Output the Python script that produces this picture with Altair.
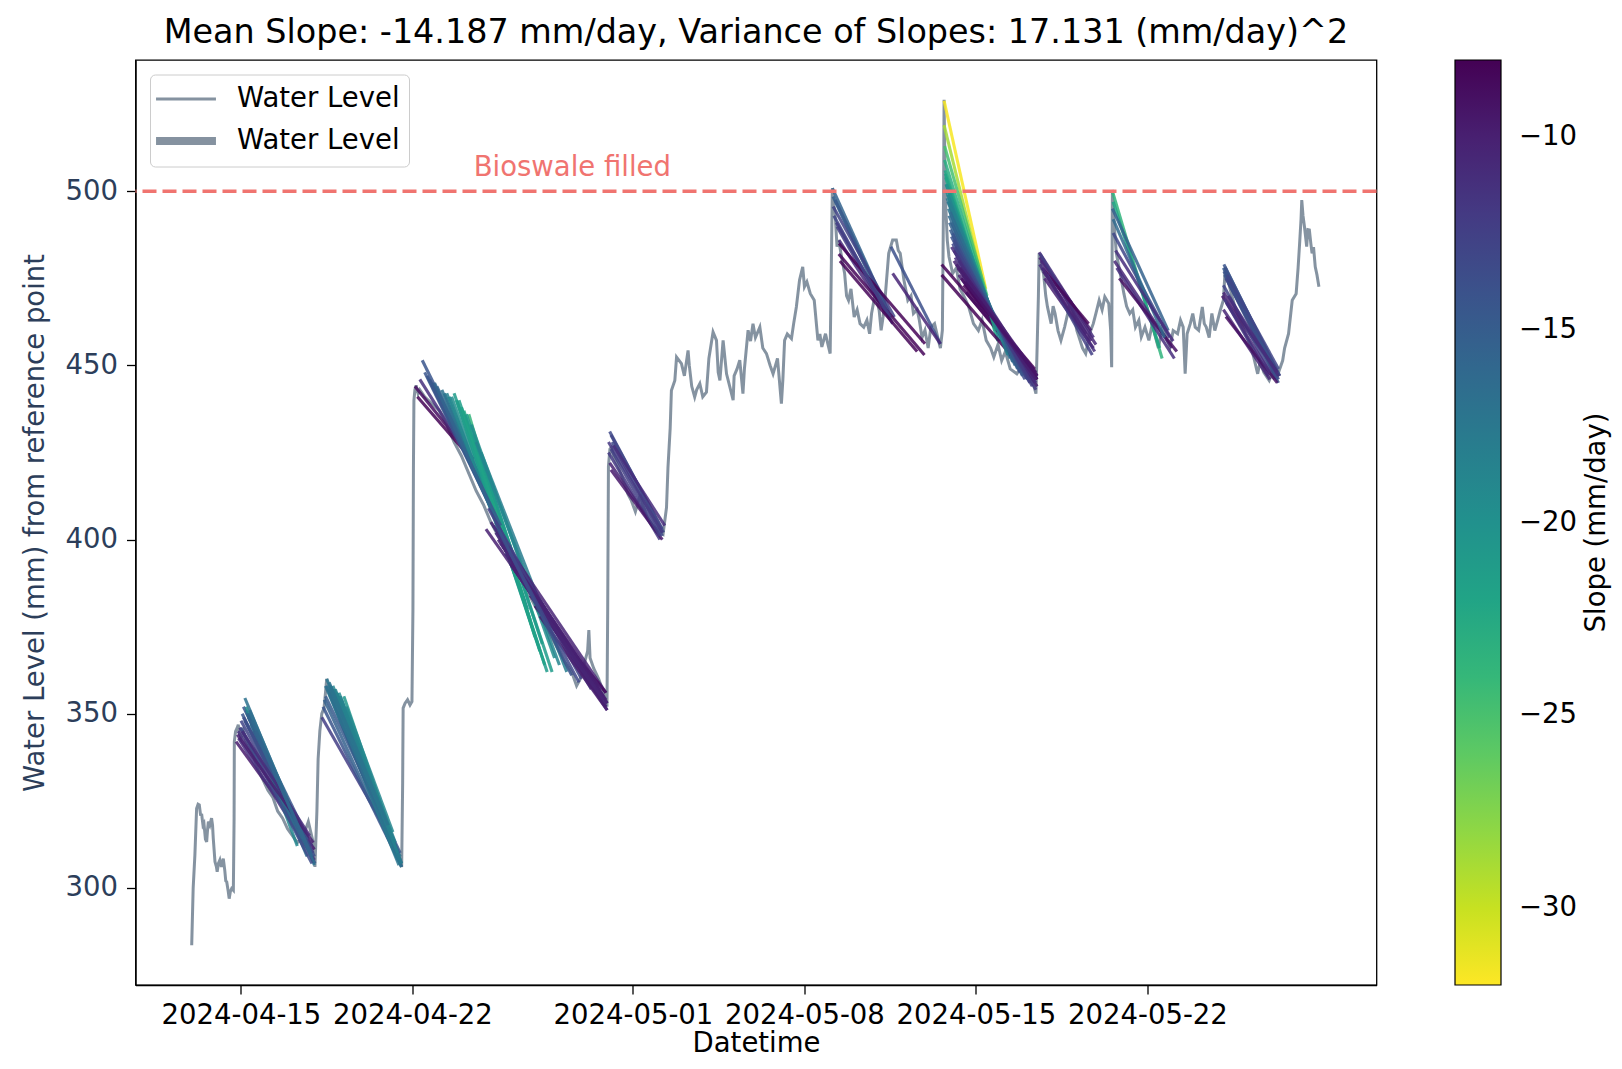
import altair as alt
import pandas as pd

# ---------------- data ----------------
BASE_DATE = "2024-04-15"  # day offsets below are relative to this date

level_days = [
    -2.01, -1.95, -1.88, -1.81, -1.75, -1.70, -1.65, -1.60, -1.55, -1.51, -1.45, -1.40, -1.36, -1.33,
    -1.27, -1.20, -1.16, -1.13, -1.06, -1.00, -0.97, -0.92, -0.86, -0.80, -0.72, -0.66, -0.62, -0.58,
    -0.52, -0.48, -0.43, -0.38, -0.31, -0.28, -0.27, -0.22, -0.15, -0.11, -0.05, 0.00, 0.10, 0.20,
    0.35, 0.50, 0.70, 0.90, 1.10, 1.30, 1.50, 1.70, 1.90, 2.10, 2.30, 2.50, 2.65, 2.75, 2.85, 2.95,
    3.02, 3.10, 3.15, 3.22, 3.30, 3.39, 3.45, 3.50, 3.55, 3.65, 3.75, 4.00, 4.30, 4.60, 4.90, 5.20,
    5.50, 5.80, 6.10, 6.35, 6.56, 6.60, 6.62, 6.70, 6.80, 6.90, 6.98, 7.02, 7.04, 7.06, 7.10, 7.15,
    7.23, 7.30, 7.50, 7.80, 8.10, 8.40, 8.70, 9.00, 9.30, 9.60, 9.90, 10.20, 10.50, 10.80, 11.10,
    11.40, 11.70, 12.00, 12.30, 12.60, 12.90, 13.20, 13.50, 13.70, 13.85, 14.00, 14.15, 14.20, 14.25,
    14.40, 14.60, 14.80, 14.94, 14.97, 15.00, 15.06, 15.12, 15.20, 15.40, 15.60, 15.80, 15.94, 16.10,
    16.30, 16.40, 16.60, 16.80, 17.00, 17.23, 17.37, 17.43, 17.52, 17.57, 17.71, 17.78, 17.98, 18.10,
    18.25, 18.30, 18.40, 18.52, 18.60, 18.73, 18.85, 19.00, 19.10, 19.27, 19.41, 19.48, 19.55, 19.68,
    19.82, 19.95, 20.09, 20.13, 20.25, 20.36, 20.49, 20.55, 20.70, 20.80, 20.90, 21.00, 21.18, 21.30,
    21.45, 21.60, 21.72, 21.90, 22.06, 22.12, 22.19, 22.30, 22.47, 22.56, 22.67, 22.80, 22.93, 23.00,
    23.10, 23.24, 23.40, 23.55, 23.63, 23.71, 23.86, 23.96, 24.05, 24.10, 24.14, 24.20, 24.25, 24.33,
    24.40, 24.49, 24.64, 24.72, 24.80, 24.90, 25.03, 25.15, 25.27, 25.42, 25.55, 25.66, 25.74, 25.89,
    26.05, 26.13, 26.21, 26.30, 26.44, 26.60, 26.75, 26.83, 26.91, 27.06, 27.22, 27.35, 27.45, 27.60,
    27.69, 27.80, 27.92, 28.05, 28.16, 28.31, 28.47, 28.55, 28.63, 28.68, 28.70, 28.72, 28.74, 28.77,
    28.83, 28.90, 29.05, 29.20, 29.35, 29.50, 29.70, 29.90, 30.10, 30.25, 30.42, 30.60, 30.73, 30.90,
    31.05, 31.20, 31.40, 31.67, 31.90, 32.10, 32.30, 32.45, 32.55, 32.58, 32.67, 32.76, 32.85, 32.92,
    33.07, 33.15, 33.23, 33.35, 33.47, 33.62, 33.75, 33.86, 34.01, 34.12, 34.25, 34.35, 34.48, 34.64,
    34.79, 34.90, 35.03, 35.15, 35.26, 35.42, 35.50, 35.54, 35.57, 35.65, 35.73, 35.89, 36.04, 36.15,
    36.28, 36.40, 36.51, 36.65, 36.75, 36.90, 37.06, 37.20, 37.29, 37.45, 37.60, 37.75, 37.92, 38.05,
    38.23, 38.35, 38.46, 38.54, 38.62, 38.75, 38.85, 38.95, 39.09, 39.24, 39.32, 39.40, 39.52, 39.63,
    39.75, 39.87, 39.98, 40.10, 40.18, 40.30, 40.45, 40.60, 40.80, 41.00, 41.20, 41.35, 41.50, 41.60,
    41.75, 41.97, 42.15, 42.29, 42.40, 42.52, 42.60, 42.76, 42.91, 43.07, 43.15, 43.22, 43.27, 43.30,
    43.35, 43.41, 43.50, 43.55, 43.61, 43.67, 43.72, 43.78, 43.85, 43.92, 44.00,
]
level_mm = [
    283.5, 300, 309.4, 322.8, 324, 323.8, 321, 320.9, 318, 318.5, 314, 313.2, 317, 319,
    318, 320, 318, 314.2, 307.5, 306, 304.6, 307, 308, 306, 308.4, 305, 302, 301.7,
    299, 296.9, 299, 299.8, 299.3, 320, 342, 344.9, 346, 346.8, 344, 343, 345, 342,
    340, 338, 334, 331, 328, 326, 322, 320, 317, 315, 313, 314, 317, 319, 316, 313,
    306, 322, 337, 345, 350, 351.6, 356, 360, 358, 357, 355, 352, 347, 341, 335, 330,
    325, 320, 315, 310, 306, 330, 351.6, 353, 354, 352.5, 353.5, 380, 420, 440, 443, 444.3,
    441.9, 443, 441, 439, 437, 433, 428, 424, 419, 414, 410, 405, 401, 397, 393,
    389, 385, 381, 377, 373, 369, 365, 362, 358, 360, 364, 368, 374, 366,
    363, 360, 356, 352, 380, 421, 426, 426.5, 424, 421, 417, 413, 411.1, 408,
    413, 410, 406, 404, 403, 401.6, 409.2, 420.7, 432, 442.8, 445.7, 452.4, 450.5, 447,
    454.3, 450, 444, 440.9, 443, 444.8, 441, 442.3, 452, 459.6, 457.2, 448, 445.7, 457.2,
    447.6, 444, 440, 447, 449, 451.5, 441.9, 449, 460.1, 457, 462, 458, 461, 455,
    453.4, 450, 447.6, 452, 439, 446, 457.2, 459, 457.7, 462, 466.8, 474.5, 478.3, 472.6,
    474, 470.6, 468.7, 457.2, 459, 455.3, 459.1, 456, 453.4, 480, 500.9, 496, 493.7, 484.1,
    486, 482.2, 476.4, 470, 468.7, 472, 463.9, 466, 462, 461, 463, 459.1, 464.9, 470.6,
    465.8, 460.1, 463.9, 470, 482.2, 486, 486, 483, 482.2, 474.5, 468.7, 470, 464.9, 466,
    463, 458, 460.1, 455, 461, 462, 457.2, 455, 460.1, 500, 526.3, 514.8, 503.3, 495.6,
    486, 481.2, 476.4, 478, 472, 470, 467, 462, 460, 463, 457.2, 455, 452.4, 456,
    451.4, 454, 449, 447.6, 450, 447, 445.7, 441.9, 470, 482.2, 478, 476.4, 470, 466.8,
    462, 467, 464.9, 460, 457.2, 461, 465, 468.7, 463.9, 460, 457.2, 455, 453.4, 459.1,
    462, 465, 468.7, 466, 469.7, 467.8, 460, 449.5, 500.4, 490, 482.2, 476.4, 470.6, 467,
    464.9, 466, 461, 463, 458.2, 461, 457.2, 462, 459.1, 455, 461, 458, 455.3, 460,
    459.1, 463, 461, 447.6, 459.1, 462, 464.9, 461, 460.1, 466.8, 462, 461, 458, 464.9,
    460, 463, 466, 468.7, 478.3, 474, 470, 466, 463, 459, 456, 452, 447.6, 451,
    448, 445.7, 449, 446.6, 449, 451.4, 455, 459.1, 468.7, 470.6, 478, 486, 492, 497.5,
    493, 489.8, 484.1, 489, 488.9, 485, 482.2, 484, 478.3, 476, 472.6,
]

# fitted recession segments per drawdown episode: (start day, start mm, end day, end mm)
ep1_segments = [
    (-0.20, 342, 3.00, 311), (-0.12, 345, 2.95, 310), (-0.10, 343, 3.00, 308), (-0.05, 346, 2.90, 312),
    (0.00, 348, 2.80, 312), (0.05, 350, 3.02, 307), (0.10, 352, 2.75, 314), (0.16, 354.5, 3.00, 306.5),
    (0.20, 351, 2.60, 313), (0.20, 352, 2.30, 312), (0.30, 349, 2.50, 315), (0.30, 350, 2.20, 318),
    (0.40, 347, 2.70, 309), (0.50, 345, 2.40, 316), (0.10, 349, 2.00, 323), (0.00, 346, 2.90, 307),
    (0.15, 348, 3.00, 309), (0.25, 350, 2.85, 310), (0.35, 351, 2.65, 313), (-0.15, 344, 2.95, 313),
    (0.05, 345, 2.80, 315), (0.45, 348, 2.55, 314), (0.60, 345, 2.90, 309),
]
ep2_segments = [
    (3.30, 349, 6.30, 312), (3.35, 352, 6.50, 307), (3.40, 354, 6.56, 306), (3.45, 358, 6.55, 306),
    (3.50, 360, 6.50, 308), (3.55, 357, 6.40, 308), (3.60, 356, 6.45, 306.5), (3.70, 357, 6.50, 309),
    (3.75, 358, 6.10, 314), (3.80, 357, 6.30, 311), (3.90, 356, 6.20, 312), (3.95, 355, 6.00, 318),
    (4.00, 356, 6.55, 307), (4.10, 354, 5.90, 320), (4.20, 355, 6.00, 318), (3.45, 355, 6.50, 310),
    (3.50, 358, 6.35, 310), (3.65, 358, 6.56, 307), (3.85, 357, 6.40, 310), (4.05, 355, 6.30, 313),
    (4.30, 352, 6.20, 316), (3.60, 359, 6.00, 318),
]
ep3_segments = [
    (7.10, 444, 9.50, 423), (7.20, 441, 9.30, 424), (7.30, 446, 9.80, 418), (7.40, 451.5, 10.30, 410),
    (7.50, 448, 10.50, 405), (7.60, 447, 10.40, 407), (7.80, 445, 10.80, 400), (8.00, 444, 11.00, 398),
    (8.30, 442, 11.20, 392), (8.60, 441, 11.40, 386), (8.70, 442, 12.50, 362), (8.90, 440, 11.60, 382),
    (9.10, 437, 11.80, 377), (9.30, 436, 12.00, 372), (9.50, 430, 12.30, 370), (9.80, 425, 13.30, 362),
    (8.20, 443, 11.10, 394), (8.40, 442, 11.30, 389), (8.50, 441, 11.70, 380), (8.80, 440, 12.20, 368),
    (9.00, 438, 12.40, 364), (9.20, 436, 12.70, 362), (7.70, 446, 10.60, 404), (7.90, 445, 10.90, 398),
    (9.40, 433, 12.80, 366), (9.60, 428, 13.00, 364),
    (10.00, 403, 14.50, 358), (10.10, 409, 13.20, 370), (10.20, 405, 14.90, 356), (10.30, 404, 14.20, 360),
    (10.40, 402, 14.95, 353), (10.40, 405, 13.90, 360), (10.50, 400, 14.60, 357), (10.60, 399, 14.80, 355),
    (10.80, 396, 14.90, 352), (10.90, 398, 14.30, 357), (11.00, 393, 14.90, 354), (11.20, 391, 14.70, 356),
    (11.50, 388, 14.95, 351), (11.80, 384, 14.60, 358), (12.00, 381, 14.90, 356), (10.70, 398, 14.85, 354),
    (11.10, 392, 14.95, 353), (11.30, 390, 14.90, 352), (11.60, 387, 14.80, 354), (10.95, 395, 14.70, 357),
    (12.20, 378, 14.95, 351), (10.50, 403, 13.50, 361), (11.00, 396, 13.80, 359),
]
ep4_segments = [
    (15.00, 425, 17.10, 400), (15.05, 431, 17.25, 402), (15.05, 422, 17.00, 402), (15.10, 430, 17.20, 403),
    (15.10, 420, 17.20, 400), (15.15, 428, 17.20, 401), (15.20, 427, 17.30, 404), (15.00, 428, 17.20, 402),
    (15.10, 426, 17.10, 401),
]
ep5_segments = [
    (24.14, 500.9, 26.52, 463.9), (24.17, 498.5, 26.05, 469.7), (24.25, 497.5, 26.44, 465.4),
    (24.17, 495.6, 26.67, 463.9), (24.33, 489.8, 26.44, 463.9), (24.41, 486, 26.52, 463),
    (24.40, 482, 27.90, 453), (24.41, 485, 27.92, 456.2), (26.53, 484.1, 28.55, 456.2),
    (26.60, 476.4, 28.55, 456.2), (24.20, 493, 26.60, 462), (24.30, 491, 26.50, 464),
    (24.45, 480, 27.60, 454),
]
ep6_segments = [
    (28.70, 526, 30.40, 472), (28.70, 519, 30.30, 473), (28.72, 513, 30.45, 470), (28.74, 506, 30.70, 462),
    (28.76, 504, 30.90, 457), (28.78, 502, 30.65, 465), (28.80, 500, 31.00, 457), (28.82, 498, 30.90, 461),
    (28.85, 497, 31.20, 456), (28.88, 495, 31.40, 452), (28.90, 493, 31.50, 451), (28.92, 491, 31.60, 450),
    (28.95, 489, 31.30, 454), (29.00, 487, 31.80, 448), (29.05, 485, 32.00, 446), (29.10, 483, 32.20, 445),
    (29.15, 481, 32.40, 445), (29.20, 479, 32.40, 447), (29.25, 478, 32.50, 446), (28.60, 479, 32.40, 448),
    (28.60, 476, 32.30, 446), (29.30, 476, 32.50, 444), (29.40, 475, 32.45, 448), (29.50, 473, 32.40, 449),
    (29.60, 471, 32.50, 446), (29.00, 484, 32.35, 447), (29.10, 480, 32.45, 446),
    (28.72, 509, 30.50, 468), (28.75, 505, 30.80, 460), (28.80, 502, 30.95, 459), (28.85, 499, 31.10, 457),
    (28.90, 497, 31.30, 453), (28.95, 494, 31.55, 451), (29.00, 491, 31.70, 449), (29.05, 488, 31.90, 447),
    (29.10, 486, 32.10, 446), (29.15, 484, 32.30, 444), (29.20, 482, 32.45, 443), (29.30, 480, 32.45, 445),
    (29.35, 478, 32.50, 447), (29.45, 476, 32.45, 446), (29.55, 474, 32.50, 447),
]
ep7_segments = [
    (32.58, 482.5, 34.80, 458), (32.60, 481, 34.70, 460), (32.62, 482, 34.50, 459), (32.65, 480, 34.90, 456),
    (32.70, 478, 34.60, 462), (32.80, 475, 34.80, 455), (32.90, 476, 34.75, 453), (32.60, 479, 34.85, 454),
    (32.75, 477, 34.70, 457),
]
ep8_segments = [
    (35.57, 500, 37.60, 452), (35.60, 497, 37.50, 455), (35.57, 495, 37.85, 460), (35.60, 488, 37.90, 458),
    (35.65, 480, 38.00, 455), (35.75, 478, 38.10, 452), (35.85, 475, 38.20, 454), (35.60, 492, 37.70, 458),
    (35.70, 483, 38.05, 457),
]
ep9_segments = [
    (40.05, 470, 42.40, 447), (40.10, 478, 42.30, 446), (40.12, 477, 42.25, 447), (40.15, 476, 42.35, 445),
    (40.20, 475, 42.30, 448), (40.10, 473, 42.20, 446), (40.15, 469, 41.95, 447), (40.10, 466, 42.00, 446),
    (40.20, 464, 42.30, 445), (40.20, 477, 42.10, 450), (40.30, 474, 42.35, 446), (40.12, 479, 42.30, 448),
    (40.18, 478, 42.40, 447), (40.25, 476, 42.35, 449), (40.10, 471, 42.30, 448), (40.30, 470, 42.35, 447),
    (40.22, 468, 42.00, 448),
]

bioswale_level = [500]
bioswale_label = ["Bioswale filled"]
bioswale_label_day = [9.5]
bioswale_label_mm = [504.5]
colorbar_title = ["Slope (mm/day)"]
legend_names = ["line", "fit"]

y_ticks = [300, 350, 400, 450, 500]
slope_ticks = [-30, -25, -20, -15, -10]
x_tick_dates = [(2024, 4, 15), (2024, 4, 22), (2024, 5, 1), (2024, 5, 8), (2024, 5, 15), (2024, 5, 22)]

# ---------------- tables ----------------
base = pd.Timestamp(BASE_DATE)


def to_time(days):
    return [(base + pd.Timedelta(days=d)).strftime("%Y-%m-%dT%H:%M:%S") for d in days]


all_segments = (ep1_segments + ep2_segments + ep3_segments + ep4_segments + ep5_segments
                + ep6_segments + ep7_segments + ep8_segments + ep9_segments)
seg_t0 = [s[0] for s in all_segments]
seg_y0 = [s[1] for s in all_segments]
seg_t1 = [s[2] for s in all_segments]
seg_y1 = [s[3] for s in all_segments]

level_df = pd.DataFrame({"t": to_time(level_days), "mm": level_mm, "kind": legend_names[0]})
seg_df = pd.DataFrame({
    "t0": to_time(seg_t0), "t1": to_time(seg_t1), "y0": seg_y0, "y1": seg_y1,
    "slope": [(b - a) / (d1 - d0) for a, b, d0, d1 in zip(seg_y0, seg_y1, seg_t0, seg_t1)],
})
thr_df = pd.DataFrame({"y": bioswale_level})
lbl_df = pd.DataFrame({"t": to_time(bioswale_label_day), "y": bioswale_label_mm, "label": bioswale_label})
cbt_df = pd.DataFrame({"label": colorbar_title})

FONT = "DejaVu Sans"
GREY = "#708090"
RED = "#f07470"
NAVY = "#2c3e5a"

x_scale = alt.Scale(domain=[alt.DateTime(year=2024, month=4, date=10, hours=16, minutes=42),
                            alt.DateTime(year=2024, month=5, date=31, hours=8, minutes=24)])
y_scale = alt.Scale(domain=[272.1, 537.7], nice=False, zero=False)

x_axis = alt.Axis(title="Datetime", format="%Y-%m-%d",
                  values=[alt.DateTime(year=y, month=m, date=d) for y, m, d in x_tick_dates],
                  labelColor="black", titleColor="black", labelPadding=7, titlePadding=1,
                  labelFlush=False, labelOverlap=False)
y_axis = alt.Axis(title="Water Level (mm) from reference point", values=y_ticks,
                  labelColor=NAVY, titleColor=NAVY, labelPadding=9, titlePadding=16)

line = alt.Chart(level_df).mark_line(color=GREY, opacity=0.85).encode(
    x=alt.X("t:T", scale=x_scale, axis=x_axis),
    y=alt.Y("mm:Q", scale=y_scale, axis=y_axis),
    strokeWidth=alt.StrokeWidth(
        "kind:N",
        scale=alt.Scale(domain=legend_names, range=[3, 8]),
        legend=alt.Legend(
            orient="none", legendX=14.5, legendY=14.5, title=None,
            symbolType="M-2.14,0L2.14,0", symbolSize=784, symbolOffset=9,
            symbolStrokeColor=GREY, symbolOpacity=0.85,
            labelExpr="'Water Level'", labelFontSize=27.5, labelColor="black", labelOffset=33,
            labelLimit=400, padding=9, rowPadding=10.5,
            fillColor="white", strokeColor="#cccccc", cornerRadius=5,
        ),
    ),
)

segs = alt.Chart(seg_df).mark_rule(strokeWidth=3.1, opacity=0.85).encode(
    x="t0:T", x2="t1:T", y="y0:Q", y2="y1:Q",
    color=alt.Color(
        "slope:Q",
        scale=alt.Scale(scheme="viridis", reverse=True, domain=[-32, -8], nice=False),
        legend=alt.Legend(
            orient="none", legendX=1319.5, legendY=0, direction="vertical",
            gradientLength=925, gradientThickness=46, gradientOpacity=1,
            gradientStrokeColor="black", gradientStrokeWidth=1.2,
            title=None,
            values=slope_ticks, labelFontSize=27.5, labelColor="black", labelOffset=18,
            labelOverlap=False, padding=0,
        ),
    ),
)

thr = alt.Chart(thr_df).mark_rule(color=RED, strokeDash=[14, 6], strokeWidth=3.5).encode(y="y:Q")

lbl = alt.Chart(lbl_df).mark_text(align="left", baseline="alphabetic", fontSize=27.5, color=RED, font=FONT).encode(
    x="t:T", y="y:Q", text="label:N"
)

cbt = alt.Chart(cbt_df).mark_text(angle=270, align="center", baseline="middle", fontSize=27.5,
                                  color="black", font=FONT).encode(
    x=alt.value(1461.5), y=alt.value(462.5), text="label:N"
)

chart = alt.layer(line, segs, thr, lbl, cbt).properties(
    width=1241, height=925,
    title=alt.TitleParams(
        "Mean Slope: -14.187 mm/day, Variance of Slopes: 17.131 (mm/day)^2",
        fontSize=33.4, font=FONT, fontWeight="normal", color="black", anchor="middle", offset=10,
    ),
    autosize=alt.AutoSizeParams(type="none"),
    padding={"left": 127.5, "top": 52, "right": 236, "bottom": 76},
).configure_axis(
    labelFont=FONT, titleFont=FONT, labelFontSize=27.5, titleFontSize=27.5, titleFontWeight="normal",
    domainColor="black", tickColor="black", domainWidth=1.3, tickWidth=1.3, tickSize=9, grid=False,
).configure_legend(
    labelFont=FONT, titleFont=FONT,
).configure_view(
    stroke="black", strokeWidth=1.3,
)

chart.save("out.html", embed_options={"renderer": "svg", "actions": False})
